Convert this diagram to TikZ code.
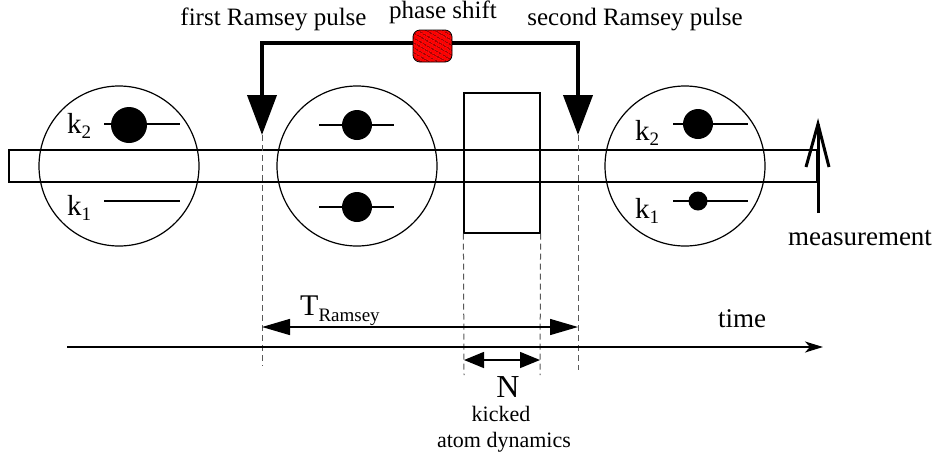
\documentclass[tikz,border=0pt]{standalone}
\usepackage{fontspec}
\setmainfont{Liberation Serif}
\newfontfamily\tms{Liberation Serif}
\usetikzlibrary{arrows.meta,patterns.meta,calc}
\newcommand{\fsz}[1]{\tms\fontsize{#1}{#1}\selectfont}
\newcommand{\ksub}[2]{{\fsz{29}k}\raisebox{-5pt}{\fsz{19}#2}}
\begin{document}
\begin{tikzpicture}[x=1pt,y=-1pt,
  thinl/.style={line width=1.2pt},
  lbl/.style={inner sep=0pt, anchor=base, font=\tms},
  lblw/.style={inner sep=0pt, anchor=base west, font=\tms},
  dashline/.style={line width=1pt, gray!70!black, dash pattern=on 6pt off 4pt},
  dotnode/.style={circle, fill=black, inner sep=0pt, minimum size=#1},
  ring/.style={circle, draw, thinl, minimum size=160pt, inner sep=0pt},
  bracket/.style={line width=4pt, -{Triangle[length=40pt,width=29pt]}},
  dimarrow/.style={line width=1.5pt, {Triangle[length=28pt,width=16pt]}-{Triangle[length=28pt,width=16pt]}},
]
\useasboundingbox (0,0) rectangle (940,456);

% strip and box
\draw[thinl] (9,150) rectangle (817,182);
\node[draw, thinl, minimum width=76pt, minimum height=140pt, inner sep=0pt] (kick) at (502,163) {};

% circles
\node[ring] (c1) at (119,166) {};
\node[ring] (c2) at (357,166) {};
\node[ring] (c3) at (685,166) {};

% levels circle 1
\draw[thinl] (104,124) -- (180,124);
\draw[thinl] (104,201) -- (180,201);
\node[dotnode=36pt] (d1) at (129,125) {};
\node[lblw] (k2a) at (67,133) {\ksub{k}{2}};
\node[lblw] (k1a) at (67,215) {\ksub{k}{1}};

% levels circle 2
\draw[thinl] (319,125) -- (394,125);
\draw[thinl] (319,207) -- (394,207);
\node[dotnode=30pt] (d2) at (357,125) {};
\node[dotnode=30pt] (d3) at (357,207) {};

% levels circle 3
\draw[thinl] (673,124) -- (748,124);
\draw[thinl] (673,201) -- (748,201);
\node[dotnode=30pt] (d4) at (698,124) {};
\node[dotnode=19pt] (d5) at (698,201) {};
\node[lblw] (k2b) at (635,140) {\ksub{k}{2}};
\node[lblw] (k1b) at (635,218) {\ksub{k}{1}};

% measurement arrow
\coordinate (mb) at (818,213);
\coordinate (mt) at (818,124);
\draw[line width=3pt] (mb) -- (mt);
\draw[line width=3pt, line join=miter] ($(mt)+(-12,43)$) -- (mt) -- ($(mt)+(11,43)$);
\node[lbl] (meas) at (860,245) {\fsz{27}measurement};

% phase shift box and Ramsey pulses
\node[draw, line width=0.8pt, fill=red, rounded corners=7pt, minimum width=39pt, minimum height=32pt, inner sep=0pt,
      postaction={pattern={Lines[angle=-30,distance=4pt,line width=0.6pt]}, pattern color=black}] (ph) at (432.5,46) {};
\coordinate (topy) at (0,43);
\coordinate (p1) at (262,135);
\coordinate (p2) at (578,135);
\draw[bracket] (ph.west |- topy) -| (p1);
\draw[bracket] (ph.east |- topy) -| (p2);
\node[lbl] (phl) at (443,18) {\fsz{25}phase shift};
\node[lbl] (fr) at (273.5,25) {\fsz{25}first Ramsey pulse};
\node[lbl] (sr) at (635,25) {\fsz{25}second Ramsey pulse};

% dashed guides
\coordinate (q1) at (262,366);
\coordinate (q2) at (578,370);
\coordinate (q3) at (464,375);
\coordinate (q4) at (540,375);
\draw[dashline] (p1) -- (q1);
\draw[dashline] (p2) -- (q2);
\draw[dashline] (kick.south west) -- (q3);
\draw[dashline] (kick.south east) -- (q4);

% time axis
\coordinate (t0) at (67,347);
\coordinate (t1) at (823,347);
\draw[line width=2pt, -{Stealth[length=18pt,width=11pt,inset=5pt]}] (t0) -- (t1);
\node[lbl] (time) at (742,327) {\fsz{27}time};

% T Ramsey
\coordinate (tl) at (262,327);
\coordinate (tr) at (578,327);
\draw[dimarrow] (tl) -- (tr);
\node[lblw] (tram) at (300,315) {{\fsz{30}T}\raisebox{-6pt}{\fsz{19}Ramsey}};

% N
\coordinate (nl) at (464,360);
\coordinate (nr) at (540,360);
\draw[line width=1.5pt, {Triangle[length=20pt,width=16pt]}-{Triangle[length=20pt,width=16pt]}] (nl) -- (nr);
\node[lbl] (N) at (508,397) {\fsz{32}N};
\node[lbl] (kk) at (501,421) {\fsz{22}kicked};
\node[lbl] (ad) at (504,447) {\fsz{22}atom dynamics};
\end{tikzpicture}
\end{document}
